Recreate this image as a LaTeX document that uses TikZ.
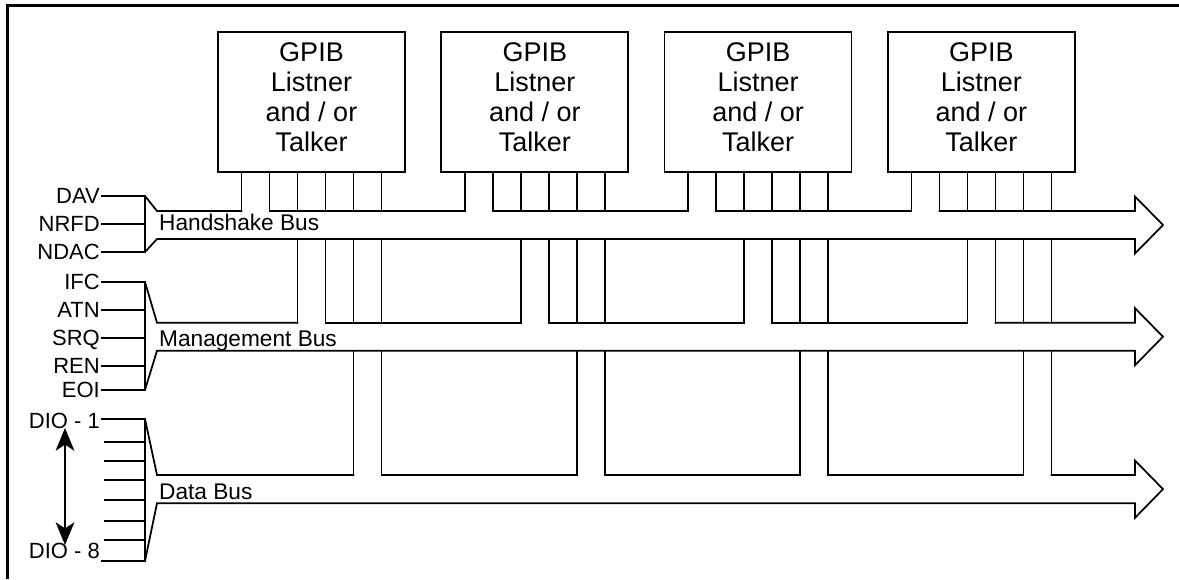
\documentclass[tikz,border=0pt]{standalone}
\usepackage{fontspec}
\setmainfont{Liberation Sans}
\usetikzlibrary{arrows.meta,positioning,calc}
\tikzset{
  device/.style={draw,minimum width=140.25pt,minimum height=105pt,inner sep=0pt,
    align=center,text depth=8pt,font=\fontsize{20.25}{22.5}\selectfont},
  siglabel/.style={anchor=east,inner sep=1pt,text height=11.8pt,text depth=0pt,
    font=\fontsize{16.5}{18}\selectfont},
  buslabel/.style={anchor=west,inner sep=1pt,text height=11.8pt,text depth=0pt,
    font=\fontsize{17}{18}\selectfont},
  edgeframe/.style={draw=black,line width=2.25pt,line cap=butt},
  dioarrow/.style={{Stealth[length=17pt,width=14pt,inset=4.5pt]}-{Stealth[length=17pt,width=14pt,inset=4.5pt]}}
}
\begin{document}
\begin{tikzpicture}[x=0.75pt,y=-0.75pt,line width=1.3pt,line cap=rect]
  \useasboundingbox (0,0) rectangle (1179,579);
  \draw[edgeframe] (7.5,579) -- (7.5,5.5) -- (1179,5.5);
  % devices, pins down to the buses
  \foreach \d in {1,...,4}{
    \node[device] (dev\d) at ({311.5+223.3*(\d-1)},102) {GPIB\\Listner\\and / or\\Talker};
    \foreach \j in {1,...,6}{
      \coordinate (p\d\j) at ($(dev\d.south)+({28*(\j-3.5)},0)$);
      \draw (p\d\j) -- (p\d\j |- 0,211);
      \ifnum\j>2 \draw (p\d\j |- 0,239) -- (p\d\j |- 0,322.7); \fi
      \ifnum\j>4 \draw (p\d\j |- 0,350.7) -- (p\d\j |- 0,475); \fi
    }
  }
  % the three buses: funnel, top line broken at the pins, arrow
  \foreach \t/\b/\k/\l/\f/\g in {211/239/1/2/196/252,322.7/350.7/3/4/282/390,475/503.3/5/6/419/561}{
    \draw (145,\f) -- (145,\g);
    \draw (145,\f) -- (157,\t) -- (p1\k |- 0,\t);
    \foreach \d [evaluate=\d as \e using int(\d+1)] in {1,2,3}
      \draw (p\d\l |- 0,\t) -- (p\e\k |- 0,\t);
    \draw (p4\l |- 0,\t) -- (1135,\t) -- (1135,\t-14.5) -- (1163,{(\t+\b)/2})
      -- (1135,\b+14.5) -- (1135,\b) -- (157,\b) -- (145,\g);
  }
  \node[buslabel] (hslbl) at (157,223) {Handshake Bus};
  \node[buslabel] (mglbl) at (157,339) {Management Bus};
  \node[buslabel] (dblbl) at (157,492) {Data Bus};
  % signal names
  \foreach \s/\y/\n in {DAV/196/dav,NRFD/224/nrfd,NDAC/252/ndac,IFC/282/ifc,
      ATN/310/atn,SRQ/338/srq,REN/366/ren,EOI/390/eoi}{
    \node[siglabel] (\n) at (102,\y) {\s};
    \draw (\n) -- (145,\y);
  }
  \node[siglabel] (dio1) at (102,421) {DIO - 1};
  \draw (dio1.east |- 0,419) -- (145,419);
  \foreach \y in {442,461,480,500,521,540}
    \draw (105,\y) -- (145,\y);
  \node[siglabel,anchor=south east] (dio8) at (102,561) {DIO - 8};
  \draw (dio8.south east) -- (145,561);
  \coordinate (dioA) at (65,428);
  \coordinate (dioB) at (65,545);
  \draw[dioarrow] (dioA) -- (dioB);
\end{tikzpicture}
\end{document}
